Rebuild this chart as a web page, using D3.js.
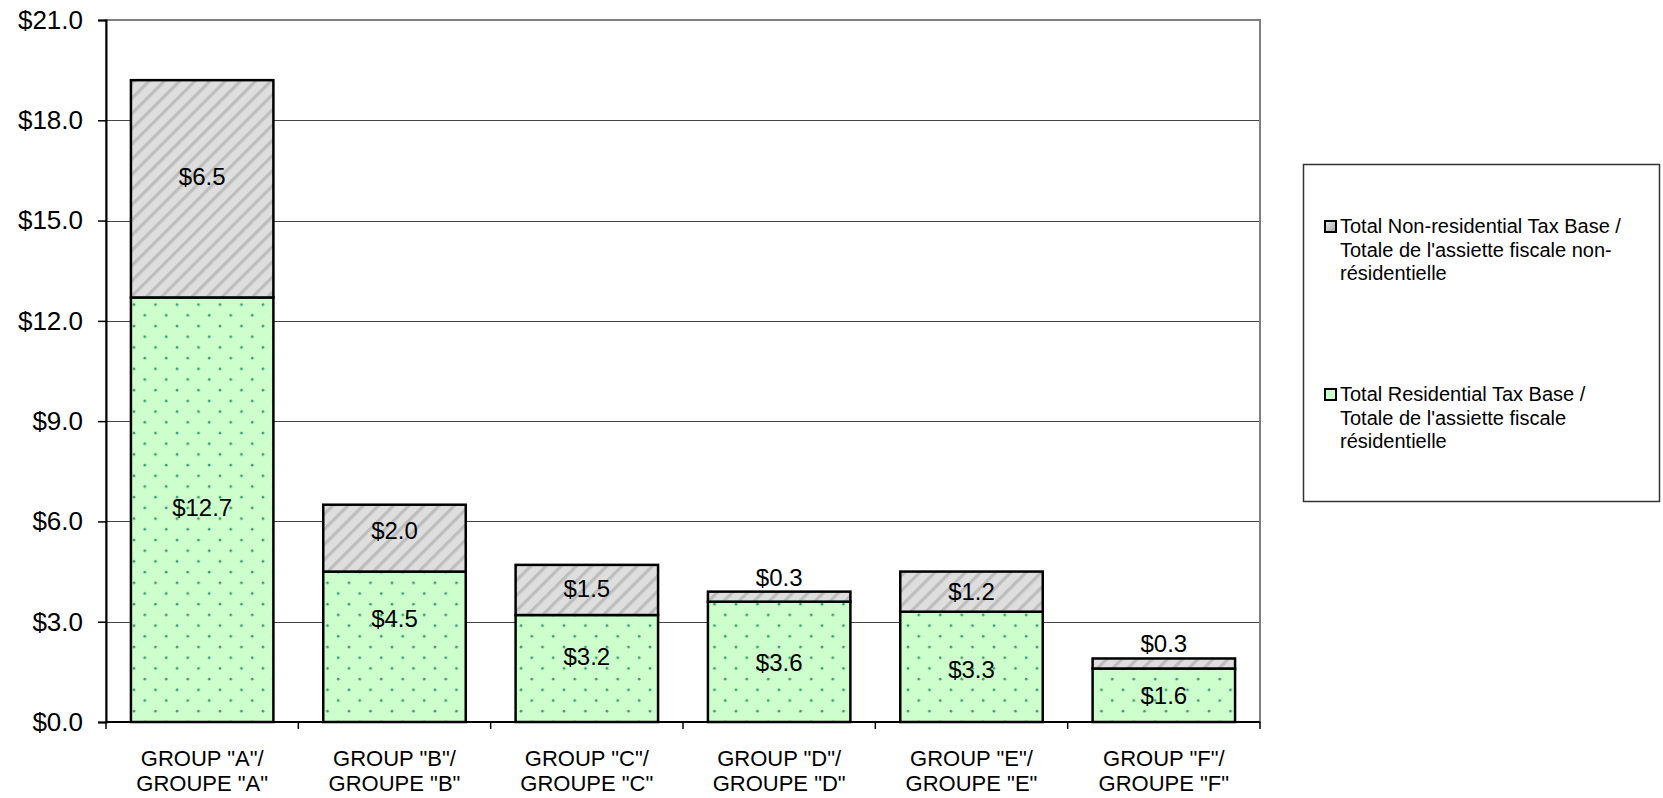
<!DOCTYPE html>
<html>
<head>
<meta charset="utf-8">
<script src="https://cdn.jsdelivr.net/npm/d3@7"></script>
<style>
  body { margin: 0; background: #fff; }
  text { font-family: "Liberation Sans", Arial, sans-serif; fill: #000; }
</style>
</head>
<body>
<div id="chart"></div>
<script>
const groupsEn = ['GROUP "A"/', 'GROUP "B"/', 'GROUP "C"/', 'GROUP "D"/', 'GROUP "E"/', 'GROUP "F"/'];
const groupsFr = ['GROUPE "A"', 'GROUPE "B"', 'GROUPE "C"', 'GROUPE "D"', 'GROUPE "E"', 'GROUPE "F"'];
const residential = [12.7, 4.5, 3.2, 3.6, 3.3, 1.6];
const nonResidential = [6.5, 2.0, 1.5, 0.3, 1.2, 0.3];
const yTicks = [0, 3, 6, 9, 12, 15, 18, 21];
const legendNonRes = ["Total Non-residential Tax Base /", "Totale de l'assiette fiscale non-", "résidentielle"];
const legendRes = ["Total Residential Tax Base /", "Totale de l'assiette fiscale", "résidentielle"];

// small manual label shifts (px) as placed in the original chart
const resLabelShift = [-2, -28, -12, 1, 3, 0];
const nonResLabelShift = [-12, -8, -1, 0, 0, 0];

const width = 1663, height = 798;
const plotLeft = 106, plotRight = 1260, plotTop = 20, plotBottom = 722;

const svg = d3.select("#chart").append("svg").attr("width", width).attr("height", height);
const defs = svg.append("defs");

// dotted green fill
const dots = defs.append("pattern").attr("id", "dots").attr("patternUnits", "userSpaceOnUse")
  .attr("width", 21.5).attr("height", 21.4);
dots.append("rect").attr("width", 21.5).attr("height", 21.4).attr("fill", "#ccffcc");
dots.append("circle").attr("cx", 5).attr("cy", 5).attr("r", 1.3).attr("fill", "#3a9a6a");
dots.append("circle").attr("cx", 15.75).attr("cy", 15.7).attr("r", 1.3).attr("fill", "#3a9a6a");

// diagonal grey fill
const stripes = defs.append("pattern").attr("id", "stripes").attr("patternUnits", "userSpaceOnUse")
  .attr("width", 10.75).attr("height", 10.75).attr("patternTransform", "rotate(45)");
stripes.append("rect").attr("width", 10.75).attr("height", 10.75).attr("fill", "#dedede");
stripes.append("rect").attr("width", 3.2).attr("height", 10.75).attr("fill", "#bdbdbd");

const grad = defs.append("linearGradient").attr("id", "legGrey").attr("x1", 0).attr("y1", 0).attr("x2", 1).attr("y2", 1);
grad.append("stop").attr("offset", 0).attr("stop-color", "#f0f0f0");
grad.append("stop").attr("offset", 1).attr("stop-color", "#a0a0a0");

const x = d3.scaleBand().domain(d3.range(groupsEn.length)).range([plotLeft, plotRight]).padding(0);
const bandW = x.bandwidth();
const barW = bandW / 1.35;
const y = d3.scaleLinear().domain([0, 21]).range([plotBottom, plotTop]);

// gridlines
svg.append("g").selectAll("line").data(yTicks.slice(1)).join("line")
  .attr("x1", plotLeft).attr("x2", plotRight)
  .attr("y1", d => Math.round(y(d)) + 0.5).attr("y2", d => Math.round(y(d)) + 0.5)
  .attr("stroke", "#444").attr("stroke-width", 1);

// plot border
svg.append("rect").attr("x", plotLeft).attr("y", plotTop).attr("width", plotRight - plotLeft).attr("height", plotBottom - plotTop)
  .attr("fill", "none").attr("stroke", "#808080").attr("stroke-width", 2);

// bars
const barG = svg.append("g");
groupsEn.forEach((g, i) => {
  const cx = x(i) + bandW / 2;
  const r = residential[i], n = nonResidential[i];
  barG.append("rect").attr("x", cx - barW / 2).attr("y", y(r)).attr("width", barW).attr("height", y(0) - y(r))
    .attr("fill", "url(#dots)").attr("stroke", "#000").attr("stroke-width", 2.5);
  barG.append("rect").attr("x", cx - barW / 2).attr("y", y(r + n)).attr("width", barW).attr("height", y(r) - y(r + n))
    .attr("fill", "url(#stripes)").attr("stroke", "#000").attr("stroke-width", 2.5);
});

// data labels
const labG = svg.append("g").style("font-size", "24px").attr("text-anchor", "middle");
groupsEn.forEach((g, i) => {
  const cx = x(i) + bandW / 2;
  const r = residential[i], n = nonResidential[i];
  labG.append("text").attr("x", cx).attr("y", y(r / 2) + resLabelShift[i]).attr("dy", "0.35em").text("$" + r.toFixed(1));
  if (y(r) - y(r + n) > 30) {
    labG.append("text").attr("x", cx).attr("y", y(r + n / 2) + nonResLabelShift[i]).attr("dy", "0.35em").text("$" + n.toFixed(1));
  } else {
    labG.append("text").attr("x", cx).attr("y", y(r + n) - 6).text("$" + n.toFixed(1));
  }
});

// y axis
const yAxis = svg.append("g").attr("transform", `translate(${plotLeft},0)`)
  .call(d3.axisLeft(y).tickValues(yTicks).tickFormat(d => "$" + d.toFixed(1)).tickSize(8).tickPadding(15));
yAxis.select(".domain").attr("stroke", "#000").attr("stroke-width", 2);
yAxis.selectAll(".tick line").attr("stroke", "#000").attr("stroke-width", 1.5);
yAxis.selectAll("text").style("font-size", "26px").style("font-family", '"Liberation Sans", Arial, sans-serif').attr("fill", "#000");

// x axis
const xAxis = svg.append("g").attr("transform", `translate(0,${plotBottom})`);
xAxis.append("line").attr("x1", plotLeft).attr("x2", plotRight).attr("stroke", "#000").attr("stroke-width", 2);
xAxis.selectAll(".xt").data(d3.range(groupsEn.length + 1)).join("line").attr("class", "xt")
  .attr("x1", d => d < groupsEn.length ? x(d) : plotRight).attr("x2", d => d < groupsEn.length ? x(d) : plotRight)
  .attr("y1", 0).attr("y2", 7).attr("stroke", "#000").attr("stroke-width", 1.5);
const xl = xAxis.selectAll(".xl").data(d3.range(groupsEn.length)).join("text").attr("class", "xl")
  .attr("text-anchor", "middle").style("font-size", "22px");
xl.append("tspan").attr("x", d => x(d) + bandW / 2).attr("y", 44).text(d => groupsEn[d]);
xl.append("tspan").attr("x", d => x(d) + bandW / 2).attr("y", 69).text(d => groupsFr[d]);

// legend
const leg = svg.append("g");
leg.append("rect").attr("x", 1303.5).attr("y", 164.5).attr("width", 356).attr("height", 337)
  .attr("fill", "#fff").attr("stroke", "#333").attr("stroke-width", 1.5);
const entries = [
  { lines: legendNonRes, fill: "url(#legGrey)", y0: 233 },
  { lines: legendRes, fill: "#ccffcc", y0: 401 }
];
entries.forEach(e => {
  leg.append("rect").attr("x", 1325).attr("y", e.y0 - 12).attr("width", 11).attr("height", 11)
    .attr("fill", e.fill).attr("stroke", "#000").attr("stroke-width", 2);
  const t = leg.append("text").style("font-size", "20px");
  e.lines.forEach((l, k) => {
    t.append("tspan").attr("x", 1340).attr("y", e.y0 + k * 23.5).text(l);
  });
});
</script>
</body>
</html>
